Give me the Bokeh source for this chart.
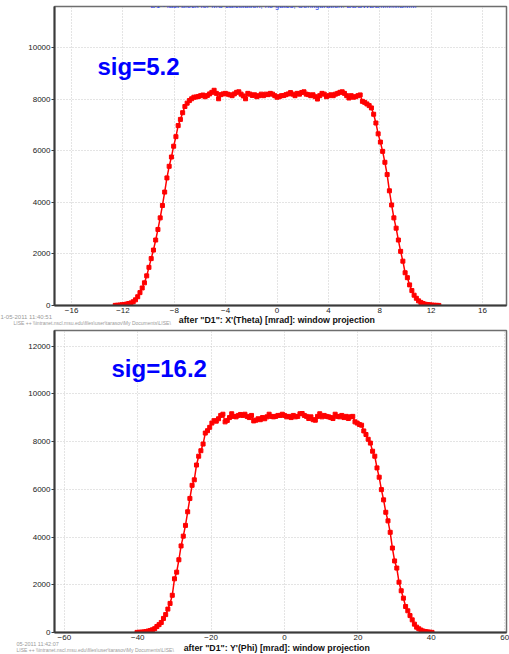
import numpy as np
from bokeh.plotting import figure
from bokeh.layouts import column
from bokeh.models import Range1d, Label, FixedTicker, Title
from bokeh.embed import file_html
from bokeh.resources import INLINE

# X'(Theta) projection: bin centers start at -12.6 mrad, 0.175 mrad bins
theta_first_center = -12.6
theta_bin_width = 0.175
theta_counts = [
    5, 10, 18, 28, 40, 55, 75, 100, 145, 220,
    340, 500, 680, 880, 1150, 1480, 1820, 2150, 2540, 2950,
    3400, 3880, 4400, 4950, 5400, 5760, 6180, 6550, 6980, 7220,
    7480, 7720, 7850, 7950, 8020, 8080, 8090, 8110, 8140, 8165,
    8100, 8150, 8210, 8270, 8350, 8230, 8020, 8180, 8210, 8230,
    8200, 8175, 8140, 8210, 8270, 8290, 8200, 8130, 8020, 8230,
    8200, 8150, 8175, 8100, 8140, 8200, 8140, 8200, 8180, 8230,
    8200, 8140, 8080, 8100, 8140, 8145, 8180, 8210, 8260, 8200,
    8140, 8230, 8200, 8265, 8290, 8200, 8180, 8140, 8175, 8100,
    8010, 8140, 8230, 8200, 8100, 8140, 8175, 8140, 8200, 8230,
    8270, 8290, 8230, 8140, 8050, 8140, 8080, 8100, 8140, 8170,
    7920, 7881, 7820, 7755, 7665, 7420, 7080, 6660, 6340, 5980,
    5556, 5080, 4450, 3900, 3400, 3000, 2540, 2100, 1720, 1270,
    1080, 800, 580, 400, 280, 180, 120, 75, 48, 35,
    25, 15, 10, 6, 3,
]

# Y'(Phi) projection: bin centers start at -40.2 mrad, 0.6 mrad bins
phi_first_center = -40.2
phi_bin_width = 0.6
phi_counts = [
    5, 10, 15, 25, 38, 60, 85, 115, 160, 250,
    330, 420, 590, 750, 980, 1220, 1560, 2250, 2530, 3049,
    3630, 4040, 4490, 5060, 5620, 6170, 6400, 7020, 7390, 7620,
    7900, 8360, 8460, 8600, 8780, 8880, 8860, 8960, 9100, 9150,
    8830, 8890, 9010, 9170, 9060, 9040, 9100, 9140, 9100, 9150,
    9060, 9010, 9100, 8870, 8900, 8960, 8920, 9010, 8960, 9040,
    9150, 9060, 9040, 9060, 9100, 9100, 9150, 9100, 9040, 9060,
    9010, 9100, 9040, 9060, 9170, 9180, 9100, 9060, 8970, 9040,
    8920, 8900, 9060, 9170, 9040, 9100, 9060, 9040, 9010, 8970,
    9150, 9060, 9040, 9100, 9010, 9060, 8970, 9040, 9060, 8830,
    8780, 8720, 8690, 8450, 8300, 8100, 7940, 7600, 7390, 6900,
    6510, 5990, 5560, 5040, 4680, 4200, 3540, 3000, 2700, 2110,
    1750, 1440, 1090, 910, 710, 530, 350, 225, 155, 100,
    60, 40, 25, 12, 5,
]

theta_ticks = [-16, -12, -8, -4, 0, 4, 8, 12, 16]
theta_count_ticks = [0, 2000, 4000, 6000, 8000, 10000]
phi_ticks = [-60, -40, -20, 0, 20, 40, 60]
phi_count_ticks = [0, 2000, 4000, 6000, 8000, 10000, 12000]

header = "D1 - fast block for MC calculation;  no gates;  Configuration: DDSWDDMMMSMM"
theta_title = "after \"D1\":  X'(Theta) [mrad]:   window projection"
phi_title = "after \"D1\":  Y'(Phi) [mrad]:   window projection"
theta_stamp = "1-05-2011  11:40:51"
phi_stamp = "05-2011  11:42:07"
path_line = "LISE ++   \\\\intranet.nscl.msu.edu\\files\\user\\tarasov\\My Documents\\LISE\\"

FONT = "Liberation Sans"
RED = "#ff0000"
NOTE_GREY = "#9a9a9a"


def make_panel(x, y, xr, yr, xticks, yticks, width, height, borders):
    left, right, top, bottom = borders
    p = figure(width=width, height=height, output_backend="svg",
               toolbar_location=None, x_range=Range1d(*xr), y_range=Range1d(*yr),
               min_border_left=left, min_border_right=right,
               min_border_top=top, min_border_bottom=bottom)
    p.background_fill_color = "white"
    p.border_fill_color = "white"
    p.outline_line_color = "#6e6e6e"
    p.outline_line_width = 1.5

    p.xaxis.ticker = FixedTicker(ticks=xticks)
    p.yaxis.ticker = FixedTicker(ticks=yticks)
    for ax in (p.xaxis[0], p.yaxis[0]):
        ax.axis_line_color = "#3a3a3a"
        ax.axis_line_width = 2
        ax.major_tick_line_color = "#3a3a3a"
        ax.minor_tick_line_color = None
        ax.major_label_text_font = FONT
        ax.major_label_text_font_size = "8px"
        ax.major_label_text_color = "#222222"
    p.xaxis.major_tick_out = 0
    p.xaxis.major_tick_in = 0
    p.xaxis.major_label_standoff = 2
    p.yaxis.major_tick_out = 3
    p.yaxis.major_tick_in = 0
    p.yaxis.major_label_standoff = 1

    for g in (p.xgrid[0], p.ygrid[0]):
        g.grid_line_color = "#c8c8c8"
        g.grid_line_dash = "1 2"
        g.grid_line_width = 1

    p.line(x, y, line_color=RED, line_width=1.5)
    p.scatter(x, y, marker="square", size=4, fill_color=RED, line_color=RED)
    return p


def add_footer(p, caption, stamp, stamp_size, stamp_offset, path_offset, standoffs):
    # notes under the x axis: date stamp, bold caption, file path.
    # negative standoffs keep the three rows overlapping in a narrow band
    s_stamp, s_caption, s_path = standoffs
    rows = [
        Title(text=stamp, align="left", offset=stamp_offset, vertical_align="middle",
              standoff=s_stamp, text_font=FONT, text_font_size=stamp_size,
              text_font_style="normal", text_color=NOTE_GREY),
        Title(text=caption, align="center", vertical_align="middle",
              standoff=s_caption, text_font=FONT, text_font_size="8.8px",
              text_font_style="bold", text_color="#111111"),
        Title(text=path_line, align="left", offset=path_offset, vertical_align="middle",
              standoff=s_path, text_font=FONT, text_font_size="5px",
              text_font_style="normal", text_color=NOTE_GREY),
    ]
    for r in rows:
        p.add_layout(r, "below")


def text_label(x, y, text, size, color, bold=False, align="left"):
    return Label(x=x, y=y, x_units="screen", y_units="screen", text=text,
                 text_font=FONT, text_font_size=size, text_color=color,
                 text_font_style="bold" if bold else "normal",
                 text_align=align, text_baseline="alphabetic")


theta_x = theta_first_center + theta_bin_width * np.arange(len(theta_counts))
phi_x = phi_first_center + phi_bin_width * np.arange(len(phi_counts))

top = make_panel(theta_x, theta_counts, (-17.33, 17.87), (0, 11600),
                 theta_ticks, theta_count_ticks, 509, 328, (54, 3, 6, 23))
top.add_layout(text_label(231, 300, header, "7.5px", "#2a3cf0", align="center"))
top.add_layout(text_label(43, 239, "sig=5.2", "24px", "#0000ff", bold=True))
add_footer(top, theta_title, theta_stamp, "6px", -54, -41, (-5.9, -7.1, -6.7))

bottom = make_panel(phi_x, phi_counts, (-62.7, 60.5), (0, 12660),
                    phi_ticks, phi_count_ticks, 509, 326, (51, 2, 2, 22))
bottom.add_layout(text_label(57, 264, "sig=16.2", "24px", "#0000ff", bold=True))
add_footer(bottom, phi_title, phi_stamp, "5.5px", -38, -38, (-5.3, -8.1, -7.7))

layout = column(top, bottom, spacing=0)
open("out.html", "w").write(file_html(layout, INLINE))
